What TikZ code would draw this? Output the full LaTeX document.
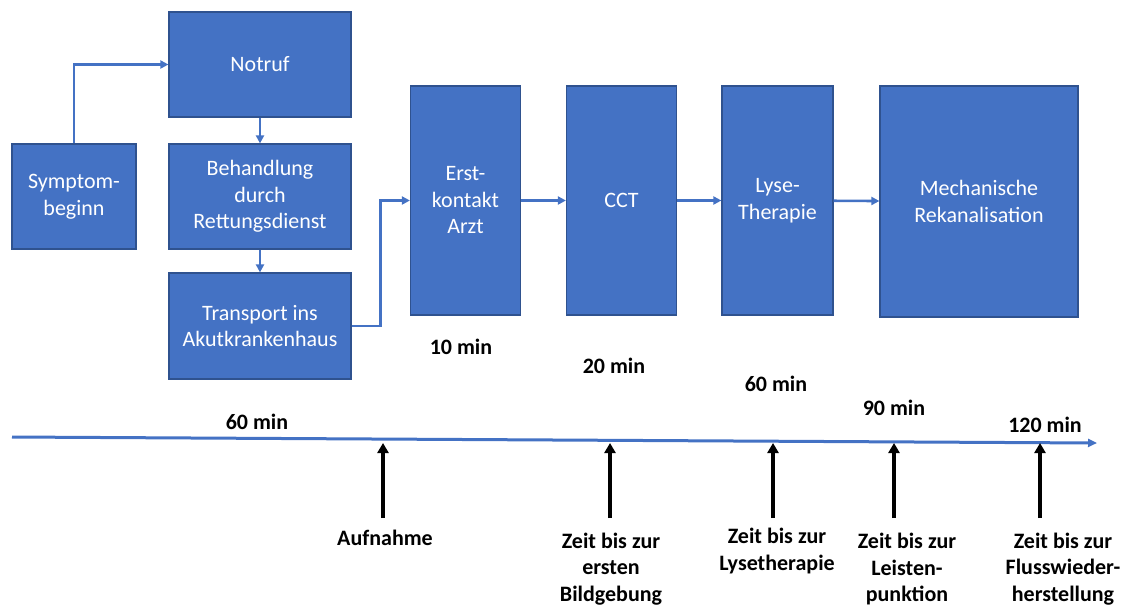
\documentclass[tikz,border=0pt]{standalone}
\usepackage{fontspec}
\setmainfont{Carlito}
\usetikzlibrary{arrows.meta}
\definecolor{boxblue}{HTML}{4472C4}
\definecolor{boxedge}{HTML}{2F528F}
\tikzset{
  box/.style={draw=boxedge, line width=1.2pt, fill=boxblue, text=white, align=center, inner sep=2pt,
    font=\fontsize{22}{26.5}\selectfont},
  flow/.style={draw=boxblue, line width=2.6pt, -{Triangle[length=8pt,width=8pt]}},
  tline/.style={draw=boxblue, line width=3pt, -{Triangle[length=9pt,width=8pt]}},
  uparr/.style={draw=black, line width=3.5pt, -{Triangle[length=10pt,width=11pt]}},
  lab/.style={align=center, inner sep=0pt, font=\fontsize{22}{26.5}\selectfont\bfseries},
}
\begin{document}
\begin{tikzpicture}[x=1pt,y=-1pt]
\useasboundingbox (0,0) rectangle (1126,606);
% boxes
\node[box, minimum width=182pt, minimum height=105pt] (notruf) at (260,64.5) {Notruf};
\node[box, minimum width=124pt, minimum height=105pt] (symp) at (74,196.5) {Symptom-\\beginn};
\node[box, minimum width=182pt, minimum height=105pt] (beh) at (260,196.5) {Behandlung\\durch\\Rettungsdienst};
\node[box, minimum width=182pt, minimum height=106pt] (trans) at (260,326) {Transport ins\\Akutkrankenhaus};
\node[box, minimum width=110pt, minimum height=229pt] (erst) at (465.5,200.5) {Erst-\\kontakt\\Arzt};
\node[box, minimum width=110pt, minimum height=229pt] (cct) at (621.5,200.5) {CCT};
\node[box, minimum width=111pt, minimum height=229pt] (lyse) at (777.5,200.5) {Lyse-\\Therapie};
\node[box, minimum width=198pt, minimum height=231pt] (mech) at (979,201.5) {Mechanische\\Rekanalisation};
% connectors
\draw[flow] (symp.north) |- (notruf.west);
\draw[flow] (notruf) -- (beh);
\draw[flow] (beh) -- (trans);
\draw[flow] (trans.east) -- ++(29,0) |- (erst.west);
\draw[flow] (erst) -- (cct);
\draw[flow] (cct) -- (lyse);
\draw[flow] (lyse) -- (mech);
% time labels
\node[lab] (t10) at (461,347) {10 min};
\node[lab] (t20) at (614,366) {20 min};
\node[lab] (t60b) at (776,384) {60 min};
\node[lab] (t90) at (894,408) {90 min};
\node[lab] (t120) at (1045,425) {120 min};
\node[lab] (t60a) at (257,422) {60 min};
% timeline
\coordinate (tl0) at (12,437);
\coordinate (tl1) at (1097,443);
\draw[tline] (tl0) -- (tl1);
% bottom labels
\node[lab] (aufn) at (385,538) {Aufnahme};
\node[lab] (bild) at (611,569) {Zeit bis zur\\ersten\\Bildgebung};
\node[lab] (lysz) at (777,551) {Zeit bis zur\\Lysetherapie};
\node[lab] (leist) at (907,569) {Zeit bis zur\\Leisten-\\punktion};
\node[lab] (fluss) at (1063,569) {Zeit bis zur\\Flusswieder-\\herstellung};
% up arrows
\coordinate (b1) at (383,518); \coordinate (u1) at (383,443);
\coordinate (b2) at (610,518); \coordinate (u2) at (610,443);
\coordinate (b3) at (773,518); \coordinate (u3) at (773,443);
\coordinate (b4) at (894,518); \coordinate (u4) at (894,443);
\coordinate (b5) at (1040,518); \coordinate (u5) at (1040,443);
\draw[uparr] (b1) -- (u1);
\draw[uparr] (b2) -- (u2);
\draw[uparr] (b3) -- (u3);
\draw[uparr] (b4) -- (u4);
\draw[uparr] (b5) -- (u5);
\end{tikzpicture}
\end{document}
